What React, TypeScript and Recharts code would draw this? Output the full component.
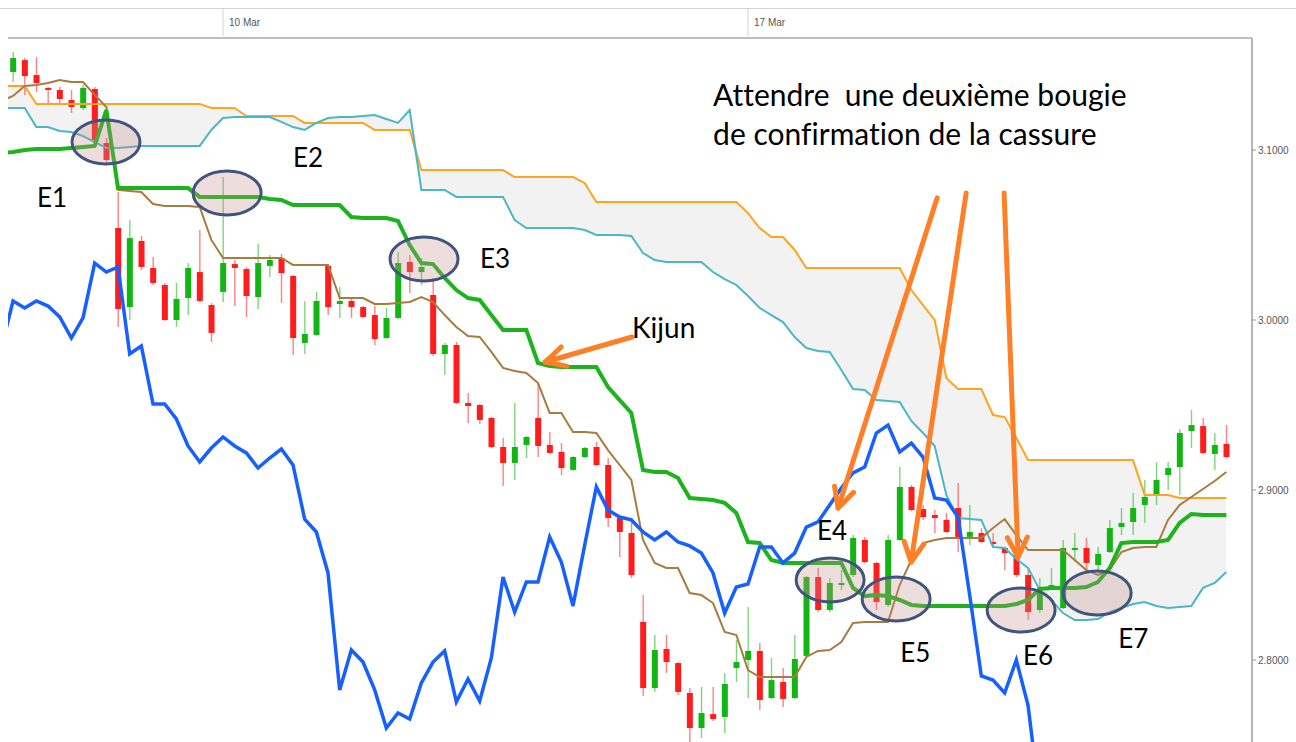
import React from 'react';
import { ComposedChart, XAxis, YAxis, Line, Area, Bar, ReferenceDot, ReferenceLine } from 'recharts';

// ---- axis labels ----
const dateTicks = [18, 63];
const dateLabels = ['10 Mar', '17 Mar'];
const priceTicks = [2.8, 2.9, 3.0, 3.1];

// ---- candles (index 0..104) ----
const opens = [
  3.1459, 3.1529, 3.1441, 3.1365, 3.1353, 3.1294, 3.1247, 3.1359, 3.1041, 3.0541,
  3.0076, 3.0465, 3.0306, 3.0206, 3.0000, 3.0129, 3.0282, 3.0088, 3.0165, 3.0329,
  3.0300, 3.0135, 3.0318, 3.0365, 3.0259, 2.9865, 2.9912, 3.0318, 3.0094, 3.0112,
  3.0076, 3.0029, 2.9894, 3.0012, 3.0341, 3.0282, 3.0147, 2.9800, 2.9853, 2.9512,
  2.9500, 2.9424, 2.9253, 2.9159, 2.9265, 2.9424, 2.9265, 2.9224, 2.9118, 2.9194,
  2.9253, 2.9147, 2.8835, 2.8747, 2.8224, 2.7835, 2.8065, 2.7982, 2.7806, 2.7600,
  2.7682, 2.7665, 2.7953, 2.8000, 2.8053, 2.7776, 2.7871, 2.7776, 2.8024, 2.8488,
  2.8294, 2.8441, 2.8500, 2.8706, 2.8571, 2.8324, 2.8706, 2.9018, 2.8888, 2.8853,
  2.8824, 2.8894, 2.8724, 2.8747, 2.8694, 2.8659, 2.8618, 2.8500, 2.8294, 2.8424,
  2.8306, 2.8647, 2.8659, 2.8559, 2.8635, 2.8782, 2.8812, 2.8912, 2.8971, 2.9088,
  2.9135, 2.9347, 2.9376, 2.9212, 2.9271,
];
const highs = [
  3.1576, 3.1541, 3.1547, 3.1371, 3.1371, 3.1353, 3.1382, 3.1371, 3.1071, 3.0753,
  3.0588, 3.0494, 3.0371, 3.0218, 3.0218, 3.0335, 3.0529, 3.0100, 3.0841, 3.0353,
  3.0312, 3.0447, 3.0382, 3.0388, 3.0265, 3.0112, 3.0165, 3.0324, 3.0194, 3.0129,
  3.0082, 3.0082, 3.0071, 3.0400, 3.0382, 3.0365, 3.0247, 2.9865, 2.9871, 2.9571,
  2.9506, 2.9429, 2.9306, 2.9512, 2.9318, 2.9629, 2.9341, 2.9276, 2.9200, 2.9253,
  2.9282, 2.9188, 2.8841, 2.8806, 2.8382, 2.8147, 2.8147, 2.7988, 2.7835, 2.7841,
  2.7841, 2.7924, 2.8118, 2.8312, 2.8100, 2.8012, 2.7953, 2.8147, 2.8494, 2.8541,
  2.8482, 2.8529, 2.8735, 2.8724, 2.8576, 2.8735, 2.9135, 2.9029, 2.8912, 2.8882,
  2.8865, 2.9041, 2.8912, 2.8776, 2.8747, 2.8665, 2.8647, 2.8541, 2.8482, 2.8541,
  2.8706, 2.8747, 2.8718, 2.8665, 2.8824, 2.8894, 2.8982, 2.9059, 2.9165, 2.9165,
  2.9359, 2.9471, 2.9424, 2.9335, 2.9382,
];
const lows = [
  3.1400, 3.1324, 3.1341, 3.1276, 3.1276, 3.1218, 3.1235, 3.1024, 3.0924, 2.9959,
  3.0000, 3.0294, 3.0206, 2.9994, 2.9959, 3.0029, 3.0106, 2.9871, 3.0106, 3.0082,
  3.0018, 3.0065, 3.0253, 3.0100, 2.9794, 2.9800, 2.9906, 3.0029, 3.0012, 3.0012,
  3.0012, 2.9853, 2.9888, 3.0006, 3.0159, 3.0206, 2.9788, 2.9676, 2.9506, 2.9394,
  2.9388, 2.9247, 2.9024, 2.9059, 2.9188, 2.9194, 2.9212, 2.9088, 2.9112, 2.9188,
  2.9141, 2.8782, 2.8606, 2.8482, 2.7788, 2.7812, 2.7924, 2.7794, 2.7500, 2.7541,
  2.7641, 2.7571, 2.7871, 2.7776, 2.7706, 2.7771, 2.7724, 2.7771, 2.8018, 2.8282,
  2.8282, 2.8412, 2.8488, 2.8571, 2.8294, 2.8312, 2.8700, 2.8876, 2.8824, 2.8747,
  2.8747, 2.8635, 2.8676, 2.8688, 2.8665, 2.8529, 2.8488, 2.8235, 2.8276, 2.8418,
  2.8300, 2.8576, 2.8529, 2.8529, 2.8629, 2.8735, 2.8735, 2.8806, 2.8912, 2.9000,
  2.8971, 2.9247, 2.9212, 2.9118, 2.9188,
];
const closes = [
  3.1541, 3.1435, 3.1394, 3.1353, 3.1300, 3.1253, 3.1365, 3.1059, 3.0941, 3.0065,
  3.0482, 3.0312, 3.0218, 3.0000, 3.0124, 3.0306, 3.0112, 2.9924, 3.0335, 3.0306,
  3.0141, 3.0335, 3.0353, 3.0276, 2.9894, 2.9918, 3.0112, 3.0076, 3.0112, 3.0076,
  3.0018, 2.9888, 3.0012, 3.0335, 3.0282, 3.0312, 2.9800, 2.9853, 2.9512, 2.9494,
  2.9412, 2.9253, 2.9159, 2.9253, 2.9312, 2.9259, 2.9218, 2.9129, 2.9194, 2.9247,
  2.9147, 2.8835, 2.8753, 2.8500, 2.7835, 2.8059, 2.7988, 2.7812, 2.7600, 2.7688,
  2.7653, 2.7859, 2.7988, 2.8053, 2.7765, 2.7882, 2.7771, 2.8006, 2.8488, 2.8294,
  2.8453, 2.8453, 2.8718, 2.8576, 2.8341, 2.8706, 2.9018, 2.8882, 2.8841, 2.8835,
  2.8753, 2.8724, 2.8753, 2.8694, 2.8682, 2.8629, 2.8500, 2.8282, 2.8400, 2.8441,
  2.8659, 2.8659, 2.8571, 2.8624, 2.8776, 2.8806, 2.8894, 2.8959, 2.9059, 2.9129,
  2.9335, 2.9382, 2.9218, 2.9265, 2.9194,
];

// ---- Ichimoku lines (index -1..104) ----
const tenkan = [
  3.1288, 3.1318, 3.1376, 3.1382, 3.1394, 3.1412, 3.1400, 3.1400, 3.1324, 3.1253,
  3.0765, 3.0759, 3.0753, 3.0682, 3.0671, 3.0671, 3.0671, 3.0665, 3.0471, 3.0365,
  3.0365, 3.0365, 3.0365, 3.0365, 3.0365, 3.0324, 3.0324, 3.0324, 3.0324, 3.0129,
  3.0129, 3.0129, 3.0094, 3.0094, 3.0100, 3.0106, 3.0135, 3.0106, 3.0029, 2.9959,
  2.9906, 2.9900, 2.9812, 2.9718, 2.9700, 2.9688, 2.9629, 2.9453, 2.9453, 2.9341,
  2.9341, 2.9335, 2.9235, 2.9147, 2.9059, 2.8706, 2.8571, 2.8541, 2.8541, 2.8394,
  2.8382, 2.8335, 2.8165, 2.8147, 2.7941, 2.7900, 2.7900, 2.7900, 2.7900, 2.8018,
  2.8053, 2.8059, 2.8106, 2.8218, 2.8224, 2.8224, 2.8224, 2.8441, 2.8588, 2.8688,
  2.8706, 2.8718, 2.8718, 2.8718, 2.8718, 2.8776, 2.8829, 2.8735, 2.8647, 2.8647,
  2.8647, 2.8647, 2.8588, 2.8529, 2.8500, 2.8529, 2.8635, 2.8659, 2.8665, 2.8665,
  2.8824, 2.8912, 2.8959, 2.9006, 2.9053, 2.9106,
];
const kijun = [
  3.0982, 3.0988, 3.1000, 3.1006, 3.1006, 3.1006, 3.1012, 3.1018, 3.1024, 3.1235,
  3.0776, 3.0776, 3.0776, 3.0776, 3.0776, 3.0776, 3.0776, 3.0724, 3.0724, 3.0724,
  3.0724, 3.0724, 3.0724, 3.0712, 3.0706, 3.0676, 3.0676, 3.0676, 3.0676, 3.0676,
  3.0606, 3.0600, 3.0600, 3.0600, 3.0582, 3.0441, 3.0335, 3.0329, 3.0247, 3.0176,
  3.0129, 3.0118, 3.0029, 2.9941, 2.9941, 2.9941, 2.9747, 2.9729, 2.9724, 2.9724,
  2.9724, 2.9724, 2.9606, 2.9529, 2.9453, 2.9118, 2.9106, 2.9106, 2.9071, 2.8953,
  2.8947, 2.8941, 2.8924, 2.8865, 2.8694, 2.8688, 2.8588, 2.8571, 2.8571, 2.8571,
  2.8571, 2.8571, 2.8571, 2.8424, 2.8376, 2.8382, 2.8376, 2.8353, 2.8324, 2.8318,
  2.8318, 2.8318, 2.8318, 2.8318, 2.8318, 2.8318, 2.8318, 2.8329, 2.8353, 2.8418,
  2.8424, 2.8424, 2.8424, 2.8429, 2.8459, 2.8541, 2.8688, 2.8694, 2.8694, 2.8694,
  2.8706, 2.8806, 2.8859, 2.8853, 2.8853, 2.8853,
];
const senkouA = [
  3.1247, 3.1247, 3.1247, 3.1135, 3.1135, 3.1112, 3.1106, 3.1082, 3.1047, 3.1012,
  3.1012, 3.1018, 3.1024, 3.1024, 3.1024, 3.1024, 3.1024, 3.1024, 3.1118, 3.1188,
  3.1194, 3.1194, 3.1194, 3.1194, 3.1165, 3.1135, 3.1118, 3.1159, 3.1188, 3.1194,
  3.1194, 3.1200, 3.1206, 3.1182, 3.1159, 3.1235, 3.0765, 3.0765, 3.0765, 3.0724,
  3.0724, 3.0724, 3.0724, 3.0724, 3.0588, 3.0541, 3.0541, 3.0541, 3.0541, 3.0541,
  3.0529, 3.0500, 3.0500, 3.0500, 3.0494, 3.0394, 3.0353, 3.0341, 3.0341, 3.0341,
  3.0341, 3.0282, 3.0241, 3.0206, 3.0141, 3.0071, 3.0029, 2.9988, 2.9900, 2.9835,
  2.9818, 2.9812, 2.9706, 2.9594, 2.9588, 2.9529, 2.9524, 2.9518, 2.9406, 2.9335,
  2.9259, 2.8971, 2.8835, 2.8829, 2.8824, 2.8665, 2.8659, 2.8594, 2.8541, 2.8412,
  2.8353, 2.8276, 2.8235, 2.8235, 2.8241, 2.8282, 2.8306, 2.8329, 2.8341, 2.8318,
  2.8306, 2.8312, 2.8318, 2.8424, 2.8453, 2.8518,
];
const senkouB = [
  3.1376, 3.1376, 3.1376, 3.1271, 3.1271, 3.1271, 3.1271, 3.1271, 3.1271, 3.1271,
  3.1271, 3.1271, 3.1271, 3.1271, 3.1271, 3.1271, 3.1271, 3.1271, 3.1247, 3.1247,
  3.1247, 3.1200, 3.1200, 3.1200, 3.1200, 3.1200, 3.1159, 3.1159, 3.1159, 3.1159,
  3.1159, 3.1159, 3.1118, 3.1118, 3.1118, 3.1118, 3.0882, 3.0882, 3.0882, 3.0882,
  3.0882, 3.0882, 3.0882, 3.0882, 3.0841, 3.0841, 3.0841, 3.0841, 3.0841, 3.0841,
  3.0806, 3.0694, 3.0694, 3.0694, 3.0694, 3.0694, 3.0694, 3.0694, 3.0694, 3.0694,
  3.0694, 3.0694, 3.0694, 3.0694, 3.0629, 3.0541, 3.0488, 3.0488, 3.0412, 3.0306,
  3.0306, 3.0306, 3.0306, 3.0306, 3.0306, 3.0306, 3.0306, 3.0306, 3.0176, 3.0088,
  3.0000, 2.9659, 2.9594, 2.9594, 2.9594, 2.9441, 2.9429, 2.9306, 2.9176, 2.9176,
  2.9176, 2.9176, 2.9176, 2.9176, 2.9176, 2.9176, 2.9176, 2.9176, 2.8971, 2.8971,
  2.8971, 2.8953, 2.8953, 2.8953, 2.8953, 2.8953,
];
// chikou span (index -1..88)
const chikou = [
  2.9835, 3.0112, 3.0071, 3.0112, 3.0082, 3.0018, 2.9894, 3.0012, 3.0335, 3.0282,
  3.0312, 2.9800, 2.9847, 2.9506, 2.9506, 2.9418, 2.9259, 2.9165, 2.9247, 2.9312,
  2.9259, 2.9218, 2.9129, 2.9188, 2.9241, 2.9147, 2.8829, 2.8753, 2.8512, 2.7824,
  2.8059, 2.7988, 2.7824, 2.7600, 2.7688, 2.7653, 2.7865, 2.7988, 2.8053, 2.7753,
  2.7888, 2.7759, 2.8012, 2.8488, 2.8282, 2.8459, 2.8459, 2.8724, 2.8576, 2.8318,
  2.8676, 2.9018, 2.8882, 2.8841, 2.8824, 2.8753, 2.8706, 2.8753, 2.8694, 2.8671,
  2.8629, 2.8512, 2.8276, 2.8429, 2.8447, 2.8665, 2.8665, 2.8571, 2.8629, 2.8782,
  2.8812, 2.8912, 2.9012, 2.9100, 2.9135, 2.9335, 2.9382, 2.9224, 2.9276, 2.9194,
  2.8953, 2.8941, 2.8841, 2.8382, 2.7906, 2.7882, 2.7806, 2.8000, 2.7735, 2.7176,
];

// ---- annotations (anchored in data coordinates) ----
const zones = [
  { i: 7.97, v: 3.1047 },
  { i: 18.35, v: 3.0747 },
  { i: 35.23, v: 3.0359 },
  { i: 70.04, v: 2.8471 },
  { i: 75.7, v: 2.8359 },
  { i: 86.41, v: 2.8294 },
  { i: 92.93, v: 2.8394 },
];
const labels = [
  { text: 'E1', i: 2.06, v: 3.0665, size: 26 },
  { text: 'E2', i: 24.0, v: 3.09, size: 26 },
  { text: 'E3', i: 40.03, v: 3.0306, size: 26 },
  { text: 'Kijun', i: 53.06, v: 2.9894, size: 28 },
  { text: 'E4', i: 68.92, v: 2.8706, size: 26 },
  { text: 'E5', i: 76.04, v: 2.7988, size: 26 },
  { text: 'E6', i: 86.58, v: 2.7971, size: 26 },
  { text: 'E7', i: 94.73, v: 2.8071, size: 26 },
  { text: 'Attendre  une deuxième bougie', i: 60.01, v: 3.1259, size: 30 },
  { text: 'de confirmation de la cassure', i: 60.01, v: 3.1029, size: 30 },
];
const arrows = [
  { from: { i: 53.06, v: 2.99 }, to: { i: 45.61, v: 2.9753 } },
  { from: { i: 79.21, v: 3.0718 }, to: { i: 70.72, v: 2.8894 } },
  { from: { i: 81.7, v: 3.0747 }, to: { i: 76.98, v: 2.8576 } },
  { from: { i: 84.95, v: 3.0747 }, to: { i: 86.15, v: 2.8606 } },
];

const rows: any[] = [];
for (let k = 0; k < tenkan.length; k++) {
  const i = k - 1;
  const a = senkouA[k];
  const b = senkouB[k];
  const row: any = {
    i,
    tenkan: tenkan[k],
    kijun: kijun[k],
    spanA: a,
    spanB: b,
    cloud: [Math.min(a, b), Math.max(a, b)],
    chikou: k < chikou.length ? chikou[k] : null,
  };
  if (i >= 0) {
    row.o = opens[i];
    row.h = highs[i];
    row.l = lows[i];
    row.c = closes[i];
    row.range = [lows[i], highs[i]];
  }
  rows.push(row);
}

const UP = '#13b513';
const DOWN = '#ff1c1c';

const Candle = (props: any) => {
  const { x, y, width, height, payload } = props;
  if (!payload || payload.o == null) return null;
  const { o, h, l, c } = payload;
  const span = h - l;
  const k = span > 0 ? height / span : 0;
  const py = (v: number) => y + (h - v) * k;
  const color = c >= o ? UP : DOWN;
  const cx = x + width / 2;
  const top = py(Math.max(o, c));
  const bot = py(Math.min(o, c));
  return (
    <g>
      <line x1={cx} x2={cx} y1={y} y2={y + height} stroke={color} strokeOpacity={0.55} strokeWidth={1.4} />
      <rect x={x} y={top} width={width} height={Math.max(bot - top, 2)} fill={color} />
    </g>
  );
};

const Ring = (props: any) => (
  <ellipse cx={props.cx} cy={props.cy} rx={34} ry={22} fill="#c89090" fillOpacity={0.3} stroke="#41557c" strokeWidth={3} />
);

const makeText = (text: string, size: number) => (props: any) => (
  <text
    x={props.cx}
    y={props.cy}
    fontSize={size}
    fontFamily="Lato, 'Open Sans', sans-serif"
    fill="#000"
    xmlSpace="preserve"
    style={{ whiteSpace: 'pre', fontVariantLigatures: 'none' }}
  >
    {text}
  </text>
);

const Arrow = (props: any) => {
  const { x1, y1, x2, y2 } = props;
  const dx = x1 - x2;
  const dy = y1 - y2;
  const len = Math.sqrt(dx * dx + dy * dy) || 1;
  const ux = dx / len;
  const uy = dy / len;
  const head = 22;
  const ang = (27 * Math.PI) / 180;
  const rot = (a: number) => ({
    x: x2 + head * (ux * Math.cos(a) - uy * Math.sin(a)),
    y: y2 + head * (ux * Math.sin(a) + uy * Math.cos(a)),
  });
  const w1 = rot(ang);
  const w2 = rot(-ang);
  const col = '#ff7f27';
  return (
    <g>
      <line x1={x1} y1={y1} x2={x2} y2={y2} stroke={col} strokeWidth={5} strokeLinecap="round" />
      <polyline points={`${w1.x},${w1.y} ${x2},${y2} ${w2.x},${w2.y}`} fill="none" stroke={col} strokeWidth={5} strokeLinecap="round" strokeLinejoin="round" />
    </g>
  );
};

const DateTick = (props: any) => {
  const { x, y, payload } = props;
  const idx = dateTicks.indexOf(payload.value);
  return (
    <g>
      <line x1={x} x2={x} y1={y - 30} y2={y - 2} stroke="#d2d2d2" strokeWidth={1} />
      <text x={x + 6} y={y - 12} fontSize={10} fontFamily="'Liberation Sans', Arial, sans-serif" fill="#555">
        {dateLabels[idx]}
      </text>
    </g>
  );
};

export default function App() {
  return (
    <div style={{ position: 'absolute', left: 0, top: 0, width: 1296, height: 742, background: '#fff', overflow: 'hidden' }}>
      <div style={{ position: 'absolute', left: 0, top: 8, width: 1296, height: 1, background: '#d4d4d4' }} />
      <ComposedChart width={1296} height={742} data={rows} margin={{ top: 9, right: 0, bottom: 0, left: 8 }}>
        <XAxis
          dataKey="i"
          type="number"
          orientation="top"
          domain={[-0.43, 106.2]}
          allowDataOverflow
          ticks={dateTicks}
          height={29}
          tickSize={0}
          tickMargin={0}
          tickLine={false}
          tick={<DateTick />}
          axisLine={{ stroke: '#bdbdbd', strokeWidth: 2 }}
        />
        <YAxis
          orientation="right"
          type="number"
          domain={[2.75176, 3.16588]}
          allowDataOverflow
          ticks={priceTicks}
          tickFormatter={(v: number) => v.toFixed(4)}
          width={44}
          tickSize={4}
          tickMargin={2}
          tick={{ fontSize: 10, fill: '#555', fontFamily: "'Liberation Sans', Arial, sans-serif" }}
          tickLine={{ stroke: '#999' }}
          axisLine={{ stroke: '#b5b5b5', strokeWidth: 2 }}
        />
        <Area dataKey="cloud" type="linear" fill="#f2f2f2" fillOpacity={1} stroke="none" isAnimationActive={false} />
        <Line dataKey="spanB" type="linear" stroke="#ffa41f" strokeWidth={2} dot={false} isAnimationActive={false} />
        <Line dataKey="spanA" type="linear" stroke="#4bb6c6" strokeWidth={2} dot={false} isAnimationActive={false} />
        <Bar dataKey="range" barSize={6} shape={Candle} isAnimationActive={false} />
        <Line dataKey="tenkan" type="linear" stroke="#a87c3e" strokeWidth={2} dot={false} isAnimationActive={false} />
        <Line dataKey="kijun" type="linear" stroke="#1cb41c" strokeWidth={4} dot={false} isAnimationActive={false} />
        <Line dataKey="chikou" type="linear" stroke="#1560ff" strokeWidth={3.5} dot={false} isAnimationActive={false} connectNulls={false} />
        {zones.map((z, n) => (
          <ReferenceDot key={'z' + n} x={z.i} y={z.v} r={1} shape={Ring} />
        ))}
        {arrows.map((a, n) => (
          <ReferenceLine
            key={'a' + n}
            segment={[{ x: a.from.i, y: a.from.v }, { x: a.to.i, y: a.to.v }]}
            shape={Arrow}
          />
        ))}
        {labels.map((t, n) => (
          <ReferenceDot key={'t' + n} x={t.i} y={t.v} r={1} shape={makeText(t.text, t.size)} />
        ))}
      </ComposedChart>
    </div>
  );
}
